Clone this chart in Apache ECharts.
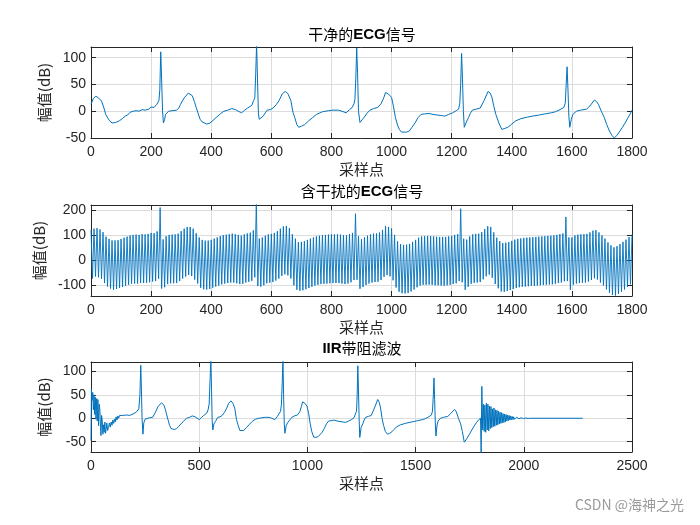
<!DOCTYPE html>
<html>
<head>
<meta charset="utf-8">
<script src="https://cdn.jsdelivr.net/npm/echarts@6.0.0/dist/echarts.min.js"></script>
<style>
  html, body { margin: 0; padding: 0; background: #fff; }
  #main { width: 700px; height: 525px; }
</style>
</head>
<body>
<div id="main"></div>
<script>
// 干净的ECG信号 —— [采样点, 幅值]
const cleanEcg = [
  [0,13],[8,24],[16,28],[25,25],[35,19],[42,8],[49,-6],[56,-13],[62,-18],[70,-22],[75,-25],[82,-21],[88,-23],[94,-18],
  [104,-14],[114,-9],[122,-7],[130,-2],[140,0],[150,1],[160,0],[170,3],[180,2],[193,4],[200,8],[210,7],[219,13],[226,20],
  [229,40],[232,111],[235,60],[238,0],[241,-22],[245,-15],[248,-6],[258,0],[270,1],[285,2],[292,6],[298,13],[310,25],
  [324,34],[337,29],[344,18],[350,7],[357,-5],[363,-15],[370,-20],[376,-23],[385,-24],[396,-22],[406,-17],[416,-12],
  [430,-5],[442,0],[455,2],[468,5],[481,3],[490,0],[501,-3],[511,2],[521,6],[535,11],[541,20],[545,25],[548,70],[551,125],
  [554,60],[557,-5],[560,-15],[566,-12],[573,-9],[580,-3],[586,2],[596,3],[606,6],[616,12],[626,20],[636,32],[646,37],
  [655,33],[665,20],[672,-2],[678,-12],[685,-25],[691,-30],[700,-28],[711,-25],[724,-18],[737,-12],[750,-6],[770,-1],
  [790,1],[805,2],[823,2],[835,0],[849,-3],[860,3],[869,7],[875,14],[878,22],[881,60],[884,118],[887,70],[890,0],[895,-21],
  [902,-16],[908,-12],[918,-4],[928,2],[940,5],[954,7],[965,14],[974,25],[980,35],[990,32],[1000,26],[1006,10],[1013,-12],
  [1020,-26],[1026,-34],[1033,-39],[1039,-40],[1050,-39],[1059,-37],[1068,-30],[1078,-22],[1088,-12],[1098,-6],[1110,-5],
  [1124,-4],[1138,-6],[1151,-7],[1165,-8],[1177,-9],[1190,-6],[1203,-3],[1215,1],[1223,4],[1227,15],[1230,50],[1233,108],
  [1236,60],[1239,0],[1242,-30],[1249,-20],[1256,-12],[1262,-4],[1269,2],[1282,4],[1295,6],[1308,20],[1321,37],[1328,34],
  [1334,26],[1340,10],[1347,-6],[1357,-22],[1367,-34],[1377,-32],[1387,-30],[1400,-24],[1413,-18],[1430,-14],[1452,-11],
  [1470,-9],[1492,-7],[1510,-5],[1531,-3],[1545,-1],[1557,2],[1573,7],[1578,15],[1581,50],[1584,83],[1587,40],[1590,-10],
  [1593,-30],[1598,-15],[1603,-6],[1615,0],[1629,2],[1649,4],[1660,10],[1675,21],[1682,18],[1688,13],[1698,0],[1708,-12],
  [1716,-25],[1725,-37],[1733,-45],[1741,-50],[1750,-45],[1760,-37],[1767,-31],[1777,-22],[1787,-12],[1794,-5],[1800,2]
];

// 含干扰的ECG信号：干扰振荡的上端点（采样点 0,10,20,...）和下端点（5,15,25,...）
const noiseStep = 10;
const noisyTop = [
  120,125,127,122,111,93,84,78,78,79,
  84,89,93,98,100,101,100,103,102,104,
  108,107,114,210,82,95,100,101,102,105,
  115,125,132,132,125,107,90,80,77,77,
  80,85,90,95,99,101,103,105,103,100,
  97,102,106,109,118,230,85,90,97,102,
  104,108,115,125,134,136,127,103,85,71,
  72,75,80,85,90,94,97,99,100,101,
  102,102,102,101,99,98,103,108,185,95,
  83,90,97,102,105,106,110,120,135,132,
  126,100,74,63,60,61,64,72,80,89,
  94,95,96,95,94,93,92,92,92,94,
  96,100,103,205,85,81,94,102,104,105,
  111,123,135,132,110,89,75,67,69,71,
  76,81,84,86,88,89,90,91,92,93,
  94,95,96,97,98,100,103,106,172,90,
  90,98,101,102,103,104,110,117,119,110,
  98,85,70,58,50,55,63,72,81,91,
  102
];
const noisyBottom = [
  -75,-67,-70,-76,-93,-107,-115,-120,-117,-113,
  -109,-104,-100,-96,-95,-95,-93,-93,-92,-90,
  -87,-85,-76,-115,-110,-97,-94,-94,-93,-85,
  -75,-67,-61,-65,-79,-95,-112,-118,-119,-117,
  -112,-107,-103,-98,-95,-93,-91,-91,-94,-97,
  -96,-91,-88,-84,-70,-105,-107,-102,-94,-92,
  -89,-83,-75,-64,-58,-62,-75,-102,-120,-124,
  -122,-118,-113,-108,-103,-100,-97,-96,-95,-94,
  -93,-93,-93,-95,-97,-95,-90,-81,-80,-116,
  -109,-101,-95,-91,-89,-88,-81,-68,-61,-66,
  -82,-111,-128,-134,-135,-133,-127,-119,-110,-103,
  -100,-100,-99,-100,-102,-102,-103,-104,-102,-100,
  -97,-94,-85,-90,-120,-108,-96,-92,-91,-89,
  -78,-66,-59,-72,-97,-114,-127,-128,-125,-121,
  -117,-113,-110,-108,-107,-106,-104,-104,-103,-102,
  -101,-100,-99,-98,-96,-93,-91,-86,-85,-120,
  -100,-95,-93,-92,-91,-87,-81,-74,-79,-91,
  -103,-118,-132,-141,-143,-136,-128,-119,-109,-98
];

// IIR带阻滤波后的信号 —— [采样点, 幅值]
const filteredEcg = [
  [0,-48],[2,62],[5,38],[8,55],[11,18],[14,50],[17,8],[20,45],[23,-2],[26,42],[29,-6],[32,40],[35,-16],[38,30],[41,18],
  [44,-20],[46,-37],[49,6],[52,-6],[55,-34],[58,-14],[61,-30],[64,-8],[67,-32],[70,-24],[73,-10],[77,-26],[81,-20],[85,-10],
  [89,-19],[93,-8],[97,-15],[101,-4],[105,-11],[108,-2],[112,-8],[116,3],[120,-4],[124,5],[128,0],[132,6],[139,4],[147,6],
  [155,3],[165,7],[178,6],[194,9],[209,13],[221,20],[226,50],[230,113],[233,60],[236,0],[240,-34],[244,-10],[250,-2],
  [258,0],[270,1],[285,2],[292,6],[298,13],[310,25],[326,33],[337,28],[344,18],[350,7],[357,-5],[363,-15],[370,-22],
  [376,-25],[385,-24],[396,-22],[406,-17],[416,-12],[430,-5],[442,0],[455,2],[468,5],[481,3],[490,0],[501,-3],[511,2],
  [521,6],[535,11],[541,18],[546,30],[550,80],[554,128],[557,60],[560,-5],[563,-25],[568,-12],[575,-7],[586,2],[596,3],
  [606,6],[616,12],[626,20],[636,32],[647,37],[656,32],[665,20],[672,-2],[680,-15],[688,-26],[696,-29],[706,-26],[718,-20],
  [730,-14],[745,-7],[760,-2],[775,0],[790,1],[805,2],[823,2],[835,0],[849,-3],[860,3],[869,7],[876,15],[880,30],[884,80],
  [887,125],[890,50],[893,-10],[896,-32],[902,-16],[908,-10],[918,-4],[928,2],[940,5],[954,7],[965,14],[972,25],[978,35],
  [988,32],[998,26],[1006,10],[1013,-12],[1020,-28],[1029,-40],[1039,-41],[1050,-39],[1059,-37],[1068,-30],[1078,-22],
  [1088,-12],[1098,-6],[1110,-5],[1124,-4],[1138,-6],[1151,-7],[1165,-8],[1177,-9],[1190,-6],[1203,-3],[1215,1],[1223,4],
  [1227,15],[1230,50],[1233,112],[1236,60],[1239,0],[1242,-41],[1248,-20],[1256,-12],[1262,-4],[1269,2],[1282,4],[1295,6],
  [1310,22],[1325,40],[1332,34],[1338,22],[1345,0],[1352,-15],[1360,-28],[1370,-34],[1380,-32],[1390,-29],[1400,-24],
  [1413,-18],[1430,-14],[1452,-11],[1470,-9],[1492,-7],[1510,-5],[1531,-3],[1545,-1],[1557,2],[1573,7],[1578,15],[1582,50],
  [1585,86],[1588,40],[1591,-10],[1594,-38],[1599,-15],[1604,-6],[1615,0],[1629,2],[1649,4],[1662,10],[1680,19],[1688,14],
  [1698,0],[1708,-12],[1716,-28],[1725,-51],[1733,-46],[1741,-40],[1750,-33],[1760,-25],[1770,-17],[1780,-10],[1790,-4],
  [1800,0],[1803,-75],[1806,68],[1810,-25],[1813,30],[1817,-28],[1820,28],[1824,-30],[1827,32],[1831,-25],[1834,30],
  [1838,-27],[1841,26],[1845,-22],[1848,25],[1852,-20],[1855,20],[1859,-18],[1862,22],[1866,-17],[1869,18],[1873,-15],
  [1876,17],[1880,-14],[1883,15],[1887,-12],[1890,13],[1894,-11],[1897,12],[1901,-10],[1904,10],[1908,-9],[1911,9],
  [1915,-8],[1918,8],[1922,-6],[1925,7],[1929,-5],[1932,6],[1936,-4],[1939,5],[1943,-3],[1946,4],[1950,-3],[1953,3],
  [1957,-2],[1960,2],[1964,-2],[1967,2],[1971,-1.5],[1974,1.5],[1978,-1],[1981,1],[1985,-1],[1988,1],[1992,-0.8],
  [1995,0.8],[1999,-0.7],[2002,0.7],[2006,-0.6],[2009,0.6],[2013,-0.5],[2016,0.5],[2020,-0.4],[2023,0.4],[2030,0],[2272,0]
];

const titles = ['干净的{b|ECG}信号', '含干扰的{b|ECG}信号', '{b|IIR}带阻滤波'];
const xMaxes = [1800, 1800, 2500];
const xSteps = [200, 200, 500];
const yRanges = [[-50, 120], [-145, 220], [-72, 120]];
const ySplits = [4, 5, 4];
const yLabelStep = [50, 100, 50];

// 交替上下端点组成干扰信号
const noisyEcg = [];
for (let i = 0; i < noisyTop.length; i++) {
  noisyEcg.push([i * noiseStep, noisyTop[i]]);
  if (i < noisyBottom.length) noisyEcg.push([i * noiseStep + noiseStep / 2, noisyBottom[i]]);
}

const FONT = '"Liberation Sans", "Noto Sans CJK SC", sans-serif';
const CJK = '"Noto Sans CJK SC", "Liberation Sans", sans-serif';
const AXC = '#262626';
const BLUE = '#0072BD';
const grids = [
  { left: 91, top: 47, width: 541, height: 91 },
  { left: 91, top: 205, width: 541, height: 91 },
  { left: 91, top: 362, width: 541, height: 90 }
];
const titleTops = [27, 184, 341];

let xAxes = [], yAxes = [], titleList = [];
grids.forEach((g, k) => {
  const xBase = {
    gridIndex: k, type: 'value', min: 0, max: xMaxes[k], interval: xSteps[k],
    axisLine: { show: true, onZero: false, lineStyle: { color: AXC, width: 1 } },
    axisTick: { show: true, inside: true, length: 5, lineStyle: { color: AXC } }
  };
  xAxes.push(Object.assign({}, xBase, {
    position: 'bottom',
    name: '采样点', nameLocation: 'middle', nameGap: 24,
    nameTextStyle: { fontFamily: CJK, fontSize: 15, color: AXC },
    axisLabel: { fontFamily: FONT, fontSize: 14, color: AXC, margin: 7, formatter: v => String(v) },
    splitLine: { show: true, lineStyle: { color: '#dcdcdc', width: 1 } }
  }));
  xAxes.push(Object.assign({}, xBase, {
    position: 'top', axisLabel: { show: false }, splitLine: { show: false }
  }));

  const yBase = {
    gridIndex: k, type: 'value', min: yRanges[k][0], max: yRanges[k][1], splitNumber: ySplits[k],
    axisLine: { show: true, onZero: false, lineStyle: { color: AXC, width: 1 } },
    axisTick: { show: true, inside: true, length: 5, lineStyle: { color: AXC } }
  };
  if (k === 0) { yBase.interval = 50; }
  yAxes.push(Object.assign({}, yBase, {
    position: 'left',
    name: '幅值(dB)', nameLocation: 'middle', nameGap: 37,
    nameTextStyle: { fontFamily: CJK, fontSize: 15, color: AXC },
    axisLabel: {
      fontFamily: FONT, fontSize: 14, color: AXC, margin: 5,
      formatter: v => (v % yLabelStep[k] === 0 ? String(v) : '')
    },
    splitLine: { show: true, lineStyle: { color: '#dcdcdc', width: 1 } }
  }));
  yAxes.push(Object.assign({}, yBase, {
    position: 'right', axisLabel: { show: false }, splitLine: { show: false }
  }));

  titleList.push({
    text: titles[k], left: 362, top: titleTops[k], textAlign: 'center', padding: 0,
    textStyle: {
      fontFamily: CJK, fontSize: 15, fontWeight: 'normal', color: '#000',
      rich: { b: { fontFamily: FONT, fontSize: 15, fontWeight: 'bold', color: '#000' } }
    }
  });
});

const seriesData = [cleanEcg, noisyEcg, filteredEcg];
const series = seriesData.map((d, k) => ({
  type: 'line', xAxisIndex: 2 * k, yAxisIndex: 2 * k, data: d,
  showSymbol: false, symbol: 'none', clip: true,
  lineStyle: { color: BLUE, width: k === 1 ? 0.9 : 1 }
}));

const chart = echarts.init(document.getElementById('main'), null, { renderer: 'canvas' });
chart.setOption({
  animation: false,
  backgroundColor: '#fff',
  title: titleList,
  grid: grids,
  xAxis: xAxes,
  yAxis: yAxes,
  series: series,
  graphic: [{
    type: 'text', right: 16, top: 498,
    style: { text: 'CSDN @海神之光', fontFamily: CJK, fontSize: 14, fill: '#9a9a9a' }
  }]
});
</script>
</body>
</html>
